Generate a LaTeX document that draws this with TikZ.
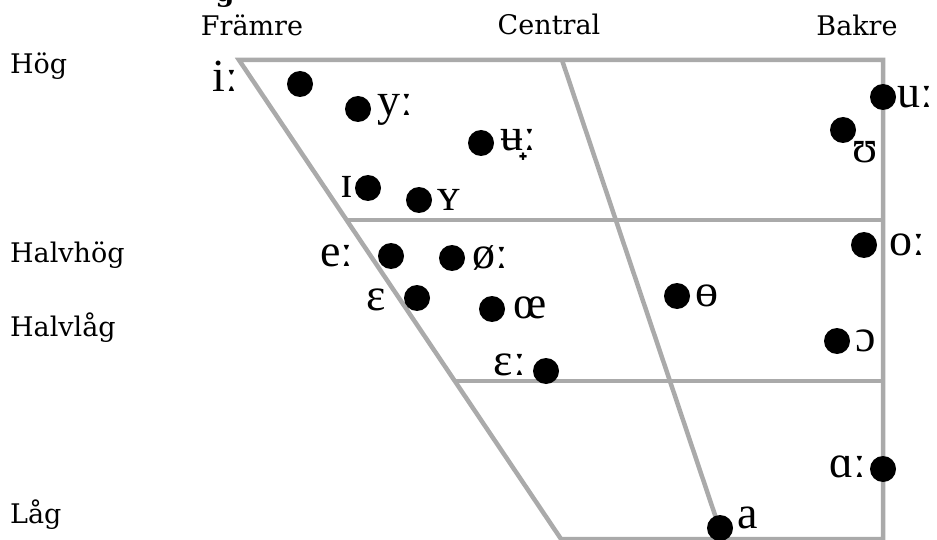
\documentclass[tikz,border=0pt]{standalone}
\usepackage{fontspec}
\setmainfont{DejaVu Serif}
\newfontfamily\ipafont{Liberation Serif}
\usetikzlibrary{positioning}
\definecolor{chartgray}{RGB}{170,170,170}
\tikzset{
  chartline/.style={draw=chartgray,line width=4.5pt,line join=miter},
  vdot/.style={circle,fill=black,minimum size=26pt,inner sep=0pt},
  ipa/.style={font=\ipafont\fontsize{46}{50}\selectfont,inner sep=0pt},
  axislabel/.style={font=\fontsize{27}{30}\selectfont,inner sep=0pt}
}

\begin{document}
\begin{tikzpicture}[x=1pt,y=-1pt]
  \useasboundingbox (0,0) rectangle (937,540);
  % corners of the chart
  \coordinate (TL) at (239,60);
  \coordinate (TC) at (562,60);
  \coordinate (TR) at (883,60);
  \coordinate (ML) at (347,220);
  \coordinate (MR) at (883,220);
  \coordinate (LL) at (455,381);
  \coordinate (LR) at (883,381);
  \coordinate (BL) at (561,539);
  \coordinate (BR) at (883,539);
  \coordinate (BC) at (718,524);
  \draw[chartline] (TL) -- (TR) -- (BR) -- (BL) -- cycle;
  \draw[chartline] (TC) -- (BC);
  \draw[chartline] (ML) -- (MR);
  \draw[chartline] (LL) -- (LR);
  % column and row labels
  \node[font=\bfseries\fontsize{27}{30}\selectfont,inner sep=0pt,anchor=base]
    (cut) at (225,2) {g};
  \node[axislabel,anchor=base] (front) at (252,36) {Främre};
  \node[axislabel,anchor=base] (central) at (549,35) {Central};
  \node[axislabel,anchor=base] (back) at (857,36) {Bakre};
  \node[axislabel,anchor=base west] (high) at (10,74) {Hög};
  \node[axislabel,anchor=base west] (midhigh) at (10,262) {Halvhög};
  \node[axislabel,anchor=base west] (midlow) at (10,336) {Halvlåg};
  \node[axislabel,anchor=base west] (low) at (10,523) {Låg};
  % vowels: dot and symbol
  \foreach \id/\dx/\dy/\lx/\ly/\sym in {
      i/300/84/225/76/iː, y/358/109/395/110/yː, ub/481/143/518/145/ʉ̟ː,
      I/368/188/347/187/ɪ, Y/419/200/449/200/ʏ, e/391/256/337/256/eː,
      oe/452/258/490/258/øː, E/417/298/376/300/ɛ, OE/492/309/530/308/œ,
      EE/546/371/510/365/ɛː, th/677/296/707/296/ɵ, o/864/245/907/245/oː,
      O/837/341/866/341/ɔ, u/883/97/915/97/uː, U/843/130/865/152/ʊ,
      A/883/469/848/467/ɑː, a/720/528/748/518/a} {
    \node[vdot] (dot-\id) at (\dx,\dy) {};
    \node[ipa] (sym-\id) at (\lx,\ly) {\sym};
  }
\end{tikzpicture}
\end{document}
